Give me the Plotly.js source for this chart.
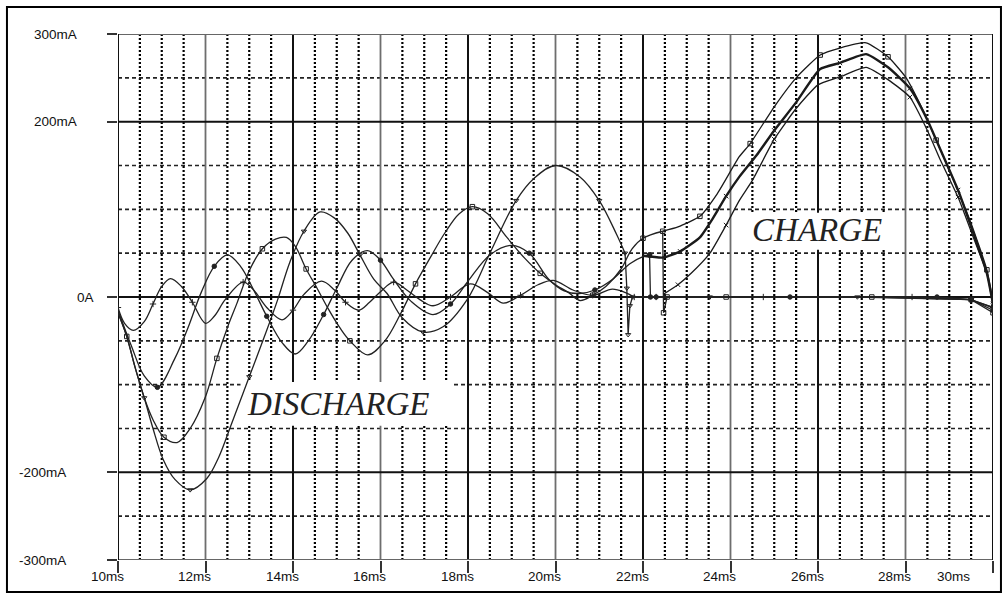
<!DOCTYPE html>
<html>
<head>
<meta charset="utf-8">
<script src="https://cdn.plot.ly/plotly-3.0.1.min.js"></script>
<style>
  html, body { margin: 0; padding: 0; background: #fff; }
  #chart { width: 1003px; height: 595px; }
</style>
</head>
<body>
<div id="chart"></div>
<script>
// ---------------- DATA (time in ms, current in mA) ----------------
// Discharge traces (four runs)
const P_t = [10.0, 10.15, 10.35, 10.6, 10.8, 11.0, 11.2, 11.45, 11.7, 12.0, 12.2, 12.45, 12.86, 13.1, 13.4, 13.75, 14.0, 14.25, 14.65, 14.95, 15.2, 15.5, 15.75, 16.0, 16.3, 16.6, 16.9, 17.2, 17.6, 18.05, 18.45, 18.8, 19.2, 19.6, 19.95, 20.4, 20.85, 21.3, 21.6, 21.8, 22.3, 24.75, 28.15, 29.48, 30.0];
const P_i = [-12, -30, -38, -28, -8, 12, 21, 12, -6, -30, -22, -3, 17, 8, -12, -26, -15, 3, 18, 8, -6, -15, -6, 6, 17, 8, -3, -10, 0, 15, 5, -7, 2, 14, 19, 8, 2, 9, 5, 0, 0, 0, 0, -3, -12];

const Q_t = [10.0, 10.3, 10.6, 10.9, 11.3, 11.6, 11.9, 12.2, 12.5, 12.8, 13.1, 13.4, 13.75, 14.05, 14.35, 14.7, 15.0, 15.35, 15.7, 16.0, 16.3, 16.7, 17.2, 17.6, 18.0, 18.5, 19.0, 19.4, 19.85, 20.2, 20.55, 20.9, 21.3, 21.7, 22.0, 22.15, 22.17, 22.3, 25.36, 28.72, 29.5, 30.0];
const Q_i = [-15, -55, -90, -103, -70, -35, 5, 35, 48, 35, 8, -22, -52, -65, -50, -20, 10, 42, 53, 42, 20, -5, -20, -8, 18, 48, 59, 50, 20, 7, 4, 8, 20, 38, 46, 48, 0, 0, 0, 0, -3, -15];

const R_t = [10.0, 10.2, 10.39, 10.6, 10.8, 11.05, 11.35, 11.65, 11.99, 12.26, 12.5, 12.72, 13.0, 13.3, 13.6, 13.85, 14.05, 14.3, 14.55, 14.8, 15.07, 15.3, 15.71, 16.1, 16.45, 16.8, 17.15, 17.47, 17.8, 18.1, 18.45, 18.89, 19.3, 19.65, 20.0, 20.3, 20.56, 20.85, 21.15, 21.5, 21.75, 22.0, 22.45, 22.47, 22.55, 23.9, 27.23, 29.5, 30.0];
const R_i = [-18, -45, -80, -115, -140, -160, -166, -150, -115, -70, -35, -7, 30, 55, 66, 68, 58, 32, 10, -13, -35, -50, -66, -50, -20, 15, 46, 73, 95, 103, 95, 68, 44, 27, 14, 5, -4, 2, 12, 32, 55, 67, 75, -18, 0, 0, 0, -3, -18];

const S_t = [10.0, 10.2, 10.4, 10.6, 10.8, 11.03, 11.3, 11.65, 12.03, 12.3, 12.6, 13.0, 13.4, 13.65, 13.93, 14.25, 14.62, 14.95, 15.25, 15.53, 15.85, 16.15, 16.5, 16.97, 17.43, 17.98, 18.5, 19.1, 19.5, 20.0, 20.56, 21.0, 21.4, 21.59, 21.63, 21.66, 21.7, 21.76, 23.53, 26.9, 29.5, 30.0];
const S_i = [-18, -45, -82, -115, -150, -185, -208, -220, -207, -183, -144, -91, -38, -3, 40, 75, 97, 90, 73, 48, 20, 4, -24, -40, -34, -3, 50, 110, 135, 150, 137, 110, 71, 50, 10, -43, -10, 0, 0, 0, -3, -12];

// Charge traces (three runs)
const C1_t = [22.45, 22.8, 23.3, 23.7, 24.2, 24.45, 25.0, 25.5, 26.05, 26.5, 27.1, 27.6, 28.0, 28.4, 28.7, 29.1, 29.5, 29.86, 30.0];
const C1_i = [75, 80, 92, 118, 160, 175, 217, 250, 276, 284, 290, 274, 251, 213, 179, 133, 84, 31, -5];

const C2_t = [22.0, 22.46, 22.85, 23.3, 23.6, 23.9, 24.2, 24.6, 25.0, 25.5, 26.05, 26.5, 27.1, 27.6, 28.1, 28.5, 28.8, 29.2, 29.55, 29.86, 30.0];
const C2_i = [47, 45, 52, 68, 90, 115, 137, 162, 190, 222, 260, 267, 277, 262, 238, 202, 168, 122, 73, 27, -8];

const C3_t = [22.46, 22.8, 23.1, 23.53, 23.9, 24.2, 24.5, 25.0, 25.5, 26.0, 26.5, 27.1, 27.6, 28.1, 28.5, 28.8, 29.2, 29.55, 29.86, 30.0];
const C3_i = [3, 14, 27, 50, 82, 110, 133, 180, 215, 242, 251, 262, 248, 228, 190, 156, 114, 68, 27, -10];

// Axis tick labels
const xTickVals = [10, 12, 14, 16, 18, 20, 22, 24, 26, 28, 30];
const xTickText = ['10ms', '12ms', '14ms', '16ms', '18ms', '20ms', '22ms', '24ms', '26ms', '28ms', '30ms'];
const yTickVals = [300, 200, 0, -200, -300];
const yTickText = ['300mA', '200mA', '0A', '-200mA', '-300mA'];

// Text labels
const labelDischarge = 'DISCHARGE';
const labelCharge = 'CHARGE';

// ---------------- RENDERING ----------------
const INK = '#222';
const FONT = 'Liberation Sans, Arial, sans-serif';

// end of the smooth (oscillating) part of each discharge trace
const discharge = [
  {t: P_t, i: P_i, end: 21.8,  sym: 'cross-thin-open'},
  {t: Q_t, i: Q_i, end: 22.15, sym: 'circle'},
  {t: R_t, i: R_i, end: 22.45, sym: 'square-open'},
  {t: S_t, i: S_i, end: 21.59, sym: 'triangle-down-open'}
];

const traces = [];
discharge.forEach(d => {
  const k = d.t.indexOf(d.end);
  traces.push({
    type: 'scatter', mode: 'lines+markers',
    x: d.t.slice(0, k + 1), y: d.i.slice(0, k + 1),
    line: {color: INK, width: 1.3, shape: 'spline', smoothing: 1},
    marker: {symbol: d.sym, size: 4.5, color: INK, line: {color: INK, width: 1}, maxdisplayed: 11},
    hoverinfo: 'skip', showlegend: false
  });
  traces.push({
    type: 'scatter', mode: 'lines+markers',
    x: d.t.slice(k), y: d.i.slice(k),
    line: {color: INK, width: 1.3, shape: 'linear'},
    marker: {symbol: d.sym, size: 4.5, color: INK, line: {color: INK, width: 1}},
    hoverinfo: 'skip', showlegend: false
  });
});

[
  {t: C1_t, i: C1_i, w: 1.3, sym: 'square-open'},
  {t: C3_t, i: C3_i, w: 1.3, sym: 'x-thin-open'},
  {t: C2_t, i: C2_i, w: 2.4, sym: 'x-thin-open'}
].forEach(c => {
  traces.push({
    type: 'scatter', mode: 'lines+markers',
    x: c.t, y: c.i,
    line: {color: '#1a1a1a', width: c.w, shape: 'spline', smoothing: 0.5},
    marker: {symbol: c.sym, size: 4.5, color: '#1a1a1a', line: {color: '#1a1a1a', width: 1}, maxdisplayed: 7},
    hoverinfo: 'skip', showlegend: false
  });
});

// grid drawn as shapes
const XMIN = 10, XMAX = 30, YMIN = -300, YMAX = 300;
const shapes = [];
const ln = (x0, x1, y0, y1, line) => shapes.push({type: 'line', xref: 'x', yref: 'y', layer: 'below', x0, x1, y0, y1, line});

for (let t = XMIN + 0.5; t < XMAX; t += 0.5) {
  if (Math.abs((t - XMIN) / 2 - Math.round((t - XMIN) / 2)) < 1e-6) continue;
  ln(t, t, YMIN, YMAX, {color: '#000', width: 2.2, dash: '2px,2px'});
}
for (let v = YMIN + 50; v < YMAX; v += 50) {
  if (v % 200 === 0) continue;
  ln(XMIN, XMAX, v, v, {color: '#222', width: 1.6, dash: '4px,3px'});
}
for (let t = XMIN + 2; t < XMAX; t += 2) {
  const dark = ((t - XMIN) / 2) % 2 === 0;
  ln(t, t, YMIN, YMAX, {color: dark ? '#111' : '#6e6e6e', width: dark ? 2 : 1.8});
}
[-200, 0, 200].forEach(v => ln(XMIN, XMAX, v, v, {color: '#111', width: 2}));

// white boxes behind the text labels
shapes.push({type: 'rect', xref: 'x', yref: 'y', layer: 'below', x0: 12.8, x1: 17.63, y0: -147, y1: -97, fillcolor: '#fff', line: {width: 0}});
shapes.push({type: 'rect', xref: 'x', yref: 'y', layer: 'below', x0: 24.33, x1: 27.71, y0: 54, y1: 96, fillcolor: '#fff', line: {width: 0}});

// plot borders
ln(XMIN, XMAX, YMAX, YMAX, {color: '#666', width: 2});
ln(XMIN, XMAX, YMIN, YMIN, {color: '#666', width: 2});
ln(XMIN, XMIN, YMIN, YMAX, {color: '#111', width: 2});
ln(XMAX, XMAX, YMIN, YMAX, {color: '#111', width: 2});

// outer frame
shapes.push({type: 'rect', xref: 'paper', yref: 'paper', layer: 'above',
  x0: -0.1269, x1: 1.0091, y0: -0.0608, y1: 1.0513, line: {color: '#000', width: 2}, fillcolor: 'rgba(0,0,0,0)'});

const annotations = [];
xTickVals.forEach((v, k) => {
  annotations.push({
    x: v, xref: 'x', y: -0.032, yref: 'paper', text: xTickText[k], showarrow: false,
    xanchor: 'center', yanchor: 'middle', xshift: v === XMAX ? -40 : -11,
    font: {family: FONT, size: 13.5, color: '#111'}
  });
});
const yLabelLeftPx = [32, 32, 75, 17, 17];
yTickVals.forEach((v, k) => {
  annotations.push({
    x: (yLabelLeftPx[k] - 118) / 875, xref: 'paper', y: v, yref: 'y', text: yTickText[k], showarrow: false,
    xanchor: 'left', yanchor: 'middle',
    font: {family: FONT, size: 13.5, color: '#111'}
  });
});
annotations.push({x: 15.03, y: -122, xref: 'x', yref: 'y', text: '<i>' + labelDischarge + '</i>', showarrow: false,
  font: {family: 'Liberation Serif, Times New Roman, serif', size: 33, color: '#222'}});
annotations.push({x: 25.98, y: 76, xref: 'x', yref: 'y', text: '<i>' + labelCharge + '</i>', showarrow: false,
  font: {family: 'Liberation Serif, Times New Roman, serif', size: 33, color: '#222'}});

const layout = {
  width: 1003, height: 595,
  margin: {l: 118, r: 10, t: 34, b: 35, pad: 0},
  paper_bgcolor: '#fff', plot_bgcolor: '#fff',
  showlegend: false,
  xaxis: {range: [XMIN, XMAX], showgrid: false, zeroline: false, showline: false,
    ticks: 'outside', tickmode: 'array', tickvals: xTickVals, ticklen: 12, tickwidth: 2, tickcolor: '#333',
    showticklabels: false, fixedrange: true},
  yaxis: {range: [YMIN, YMAX], showgrid: false, zeroline: false, showline: false,
    ticks: 'outside', tickmode: 'array', tickvals: yTickVals, ticklen: 10, tickwidth: 2, tickcolor: '#333',
    showticklabels: false, fixedrange: true},
  shapes, annotations
};

Plotly.newPlot('chart', traces, layout, {displayModeBar: false, staticPlot: true});
</script>
</body>
</html>
